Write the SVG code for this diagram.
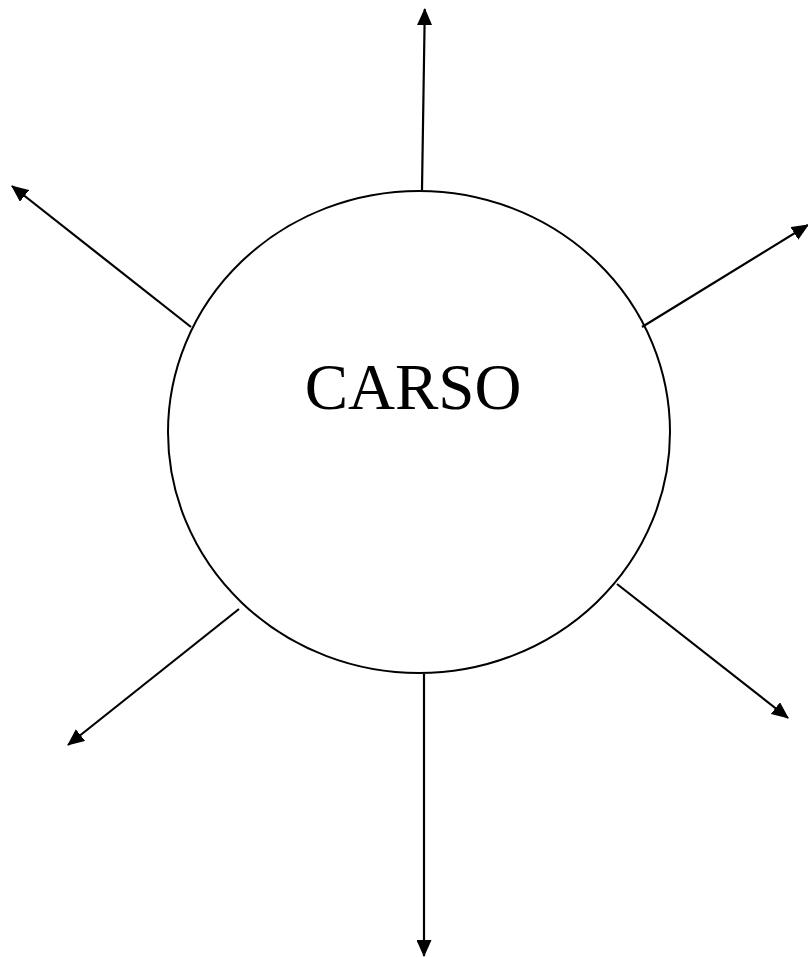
<svg xmlns="http://www.w3.org/2000/svg" width="808" height="958" viewBox="0 0 808 958">
<style>
.c{fill:none;stroke:#000;stroke-width:2}
.a{stroke:#000;stroke-width:2.2;fill:none;marker-end:url(#ah)}
.t{font-family:"Liberation Serif","Times New Roman",serif;font-size:65px;fill:#000}
</style>
<defs>
<marker id="ah" markerWidth="17" markerHeight="15" refX="16" refY="7.5" orient="auto" markerUnits="userSpaceOnUse">
<path d="M0,0 L17,7.5 L0,15 Z" fill="#000"/>
</marker>
</defs>
<rect width="808" height="958" fill="#fff"/>
<g id="carso">
<ellipse class="c" cx="419" cy="432" rx="251" ry="241"/>
<text class="t" x="413" y="409" text-anchor="middle">CARSO</text>
</g>
<g id="connectors">
<line class="a" x1="422" y1="190" x2="424.8" y2="9"/>
<line class="a" x1="191" y1="327" x2="12" y2="186"/>
<line class="a" x1="642" y1="327" x2="808" y2="225"/>
<line class="a" x1="239" y1="609" x2="68" y2="745"/>
<line class="a" x1="424" y1="674" x2="424" y2="956"/>
<line class="a" x1="617" y1="584" x2="788" y2="718"/>
</g>
</svg>
